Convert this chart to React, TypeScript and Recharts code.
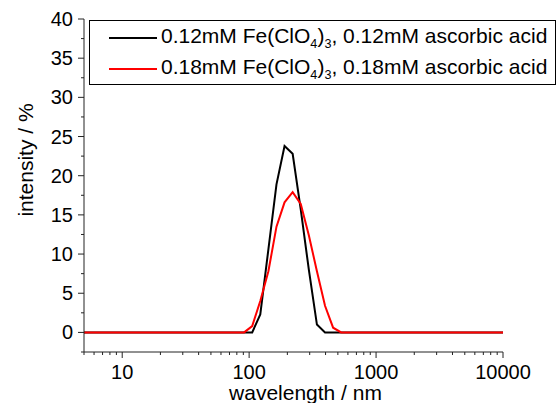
import { LineChart, Line, XAxis, YAxis, Legend } from "recharts"

const sizes = [
  4.849, 5.615, 6.503, 7.531, 8.721, 10.1, 11.7, 13.54, 15.69, 18.17, 21.04, 24.36, 28.21, 32.67, 37.84, 43.82, 50.75,
  58.77, 68.06, 78.82, 91.28, 105.7, 122.4, 141.8, 164.2, 190.1, 220.2, 255.0, 295.3, 342.0, 396.1, 458.7, 531.2, 615.1,
  712.4, 825.0, 955.4, 1106, 1281, 1484, 1718, 1990, 2305, 2669, 3091, 3580, 4145, 4801, 5560, 6439, 7456, 8635, 10000,
]

const black012 = [
  0, 0, 0, 0, 0, 0, 0, 0, 0, 0, 0, 0, 0, 0, 0, 0, 0, 0, 0, 0, 0, 0, 2.3, 10.6, 18.9, 23.8, 22.8, 15.7, 8.0, 1.0, 0, 0,
  0, 0, 0, 0, 0, 0, 0, 0, 0, 0, 0, 0, 0, 0, 0, 0, 0, 0, 0, 0, 0,
]

const red018 = [
  0, 0, 0, 0, 0, 0, 0, 0, 0, 0, 0, 0, 0, 0, 0, 0, 0, 0, 0, 0, 0, 0.8, 4.0, 7.8, 13.5, 16.6, 17.9, 16.4, 12.4, 7.8, 3.4,
  0.6, 0, 0, 0, 0, 0, 0, 0, 0, 0, 0, 0, 0, 0, 0, 0, 0, 0, 0, 0, 0, 0,
]

const xTicks = [
  5, 6, 7, 8, 9, 10, 20, 30, 40, 50, 60, 70, 80, 90, 100, 200, 300, 400, 500, 600, 700, 800, 900, 1000, 2000, 3000,
  4000, 5000, 6000, 7000, 8000, 9000, 10000,
]
const xLabeled = [10, 100, 1000, 10000]

const yTicks = [-2.5, 0, 2.5, 5, 7.5, 10, 12.5, 15, 17.5, 20, 22.5, 25, 27.5, 30, 32.5, 35, 37.5, 40]
const yLabeled = [0, 5, 10, 15, 20, 25, 30, 35, 40]

const FONT = "'Liberation Sans', Arial, sans-serif"
const TS = 6
const TM = 8

const data = sizes.map((s, i) => ({ size: s, a: black012[i], b: red018[i] }))

const XTick = ({ x, y, payload }: any) => {
  const ay = y - TS - TM
  const major = xLabeled.includes(payload.value)
  return (
    <g>
      <line x1={x} x2={x} y1={ay} y2={ay + (major ? 6 : 3)} stroke="#222" strokeWidth={1} />
      {major && (
        <text x={x} y={ay + 27} textAnchor="middle" fontSize={20} fontFamily={FONT} fill="#000">
          {payload.value}
        </text>
      )}
    </g>
  )
}

const YTick = ({ x, y, payload }: any) => {
  const ax = x + TS + TM
  const major = yLabeled.includes(payload.value)
  return (
    <g>
      <line x1={ax} x2={ax - (major ? 6 : 3)} y1={y} y2={y} stroke="#222" strokeWidth={1} />
      {major && (
        <text x={ax - 11} y={y + 7} textAnchor="end" fontSize={20} fontFamily={FONT} fill="#000">
          {payload.value}
        </text>
      )}
    </g>
  )
}

const YTitle = () => (
  <text x={33} y={160} transform="rotate(-90, 33, 160)" textAnchor="middle" fontSize={21} fontFamily={FONT} fill="#000">
    intensity / %
  </text>
)

const Sub = ({ children }: any) => (
  <span style={{ fontSize: "0.6em", verticalAlign: "-0.4em" }}>{children}</span>
)

const legendRows = [
  { color: "#000000", conc: "0.12mM" },
  { color: "#ff0000", conc: "0.18mM" },
]

const LegendBox = () => (
  <div
    style={{
      width: 467,
      height: 65,
      boxSizing: "border-box",
      border: "1px solid #000",
      background: "#fff",
      fontFamily: FONT,
      fontSize: 21,
      position: "relative",
    }}
  >
    {legendRows.map((r, i) => (
      <div
        key={i}
        style={{ position: "absolute", left: 19, top: 4 + i * 31, height: 26, display: "flex", alignItems: "center", whiteSpace: "nowrap" }}
      >
        <span style={{ display: "inline-block", width: 48, height: 2, background: r.color, marginRight: 4 }} />
        <span style={{ color: "#000" }}>
          {r.conc} Fe(ClO<Sub>4</Sub>)<Sub>3</Sub>, {r.conc} ascorbic acid
        </span>
      </div>
    ))}
  </div>
)

export default function App() {
  return (
    <div style={{ position: "absolute", left: 0, top: 0, width: 557, height: 403, background: "#fff" }}>
      <LineChart width={557} height={403} data={data} margin={{ top: 19, right: 54, bottom: 0, left: 83 }}>
        <XAxis
          dataKey="size"
          type="number"
          scale="log"
          domain={[5, 10000]}
          allowDataOverflow
          ticks={xTicks}
          interval={0}
          tickLine={false}
          tickSize={TS}
          tickMargin={TM}
          tick={<XTick />}
          height={51}
          stroke="#222"
          label={{
            value: "wavelength / nm",
            position: "insideBottom",
            offset: 3,
            dx: 12,
            fontSize: 21,
            fontFamily: FONT,
            fill: "#000",
          }}
        />
        <YAxis
          type="number"
          domain={[-2.5, 40]}
          allowDataOverflow
          ticks={yTicks}
          interval={0}
          tickLine={false}
          tickSize={TS}
          tickMargin={TM}
          tick={<YTick />}
          width={1}
          stroke="#222"
          label={<YTitle />}
        />
        <Legend
          layout="vertical"
          align="center"
          verticalAlign="middle"
          wrapperStyle={{ left: 89, top: 20, width: 467, height: 65 }}
          content={<LegendBox />}
        />
        <Line type="linear" dataKey="a" stroke="#000000" strokeWidth={2} dot={false} isAnimationActive={false} />
        <Line type="linear" dataKey="b" stroke="#ff0000" strokeWidth={2} dot={false} isAnimationActive={false} />
      </LineChart>
    </div>
  )
}
